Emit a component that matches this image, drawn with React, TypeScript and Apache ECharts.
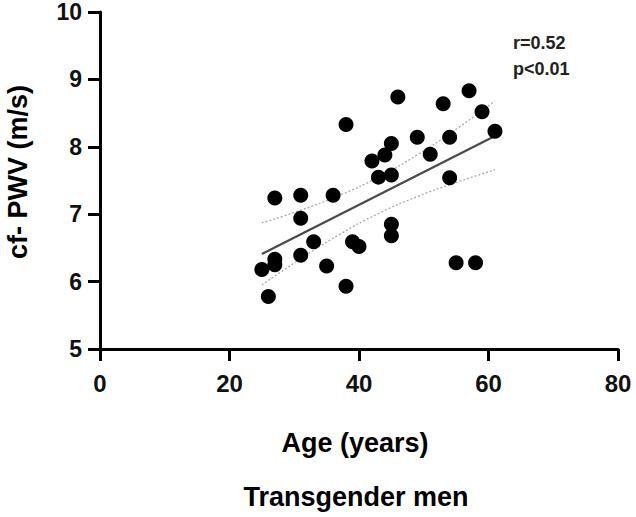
import React, { useEffect, useRef } from "react";
import * as echarts from "echarts";

const ages = [25, 26, 27, 27, 27, 31, 31, 31, 33, 35, 36, 38, 38, 39, 40, 42, 43, 44, 45, 45, 45, 45, 46, 49, 51, 53, 54, 54, 55, 57, 58, 59, 61];
const pwv = [6.18, 5.78, 6.33, 6.25, 7.24, 7.28, 6.94, 6.39, 6.59, 6.23, 7.28, 8.33, 5.93, 6.59, 6.52, 7.79, 7.55, 7.88, 8.05, 7.58, 6.85, 6.68, 8.74, 8.14, 7.89, 8.64, 8.14, 7.54, 6.28, 8.83, 6.28, 8.52, 8.23];

const fitX = [25, 61];
const fitY = [6.41, 8.16];

const ciX = [25, 31, 37, 43, 49, 55, 61];
const ciUpper = [6.87, 7.06, 7.28, 7.55, 7.88, 8.26, 8.68];
const ciLower = [5.95, 6.34, 6.70, 7.01, 7.26, 7.47, 7.66];

const xTicks = [0, 20, 40, 60, 80];
const yTicks = [5, 6, 7, 8, 9, 10];

const statLines = ["r=0.52", "p<0.01"];
const xTitle = "Age (years)";
const yTitle = "cf- PWV (m/s)";
const groupTitle = "Transgender men";

const FONT = "'Liberation Sans', Arial, sans-serif";

export default function App() {
  const ref = useRef<HTMLDivElement>(null);
  useEffect(() => {
    if (!ref.current) return;
    const chart = echarts.init(ref.current, undefined, { renderer: "svg" });
    const axisLine = { show: true, lineStyle: { color: "#000", width: 3 } };
    chart.setOption({
      animation: false,
      backgroundColor: "#fff",
      grid: { left: 100, right: 18, top: 12, bottom: 168, containLabel: false },
      xAxis: {
        type: "value",
        min: xTicks[0],
        max: xTicks[xTicks.length - 1],
        interval: 20,
        axisLine,
        axisTick: { show: true, length: 12, lineStyle: { color: "#000", width: 3 } },
        axisLabel: { fontSize: 24, fontWeight: "bold", color: "#111", fontFamily: FONT, margin: 22 },
        splitLine: { show: false },
      },
      yAxis: {
        type: "value",
        min: yTicks[0],
        max: yTicks[yTicks.length - 1],
        interval: 1,
        axisLine,
        axisTick: { show: true, length: 12, lineStyle: { color: "#000", width: 3 } },
        axisLabel: { fontSize: 23, fontWeight: "bold", color: "#111", fontFamily: FONT, margin: 18 },
        splitLine: { show: false },
      },
      series: [
        {
          type: "line",
          data: ciX.map((x, i) => [x, ciUpper[i]]),
          smooth: true,
          symbol: "none",
          lineStyle: { color: "#aaa", width: 1.3, type: [2, 2] },
          z: 1,
        },
        {
          type: "line",
          data: ciX.map((x, i) => [x, ciLower[i]]),
          smooth: true,
          symbol: "none",
          lineStyle: { color: "#aaa", width: 1.3, type: [2, 2] },
          z: 1,
        },
        {
          type: "line",
          data: fitX.map((x, i) => [x, fitY[i]]),
          symbol: "none",
          lineStyle: { color: "#4a4a4a", width: 2.2 },
          z: 2,
        },
        {
          type: "scatter",
          data: ages.map((a, i) => [a, pwv[i]]),
          symbol: "circle",
          symbolSize: 15,
          itemStyle: { color: "#000", opacity: 1 },
          z: 3,
        },
      ],
      graphic: [
        {
          type: "text",
          left: 513,
          top: 30,
          style: {
            text: statLines.join("\n"),
            font: `bold 18px ${FONT}`,
            fill: "#222",
            lineHeight: 26,
          },
        },
        {
          type: "text",
          x: 18,
          y: 172,
          rotation: Math.PI / 2,
          style: {
            text: yTitle,
            font: `bold 27px ${FONT}`,
            fill: "#000",
            align: "center",
            verticalAlign: "middle",
          },
        },
        {
          type: "text",
          x: 355,
          y: 443,
          style: {
            text: xTitle,
            font: `bold 27px ${FONT}`,
            fill: "#000",
            align: "center",
            verticalAlign: "middle",
          },
        },
        {
          type: "text",
          x: 356,
          y: 497,
          style: {
            text: groupTitle,
            font: `bold 27px ${FONT}`,
            fill: "#000",
            align: "center",
            verticalAlign: "middle",
          },
        },
      ],
    });
    return () => chart.dispose();
  }, []);
  return <div ref={ref} style={{ width: 636, height: 517, position: "absolute", left: 0, top: 0 }} />;
}
